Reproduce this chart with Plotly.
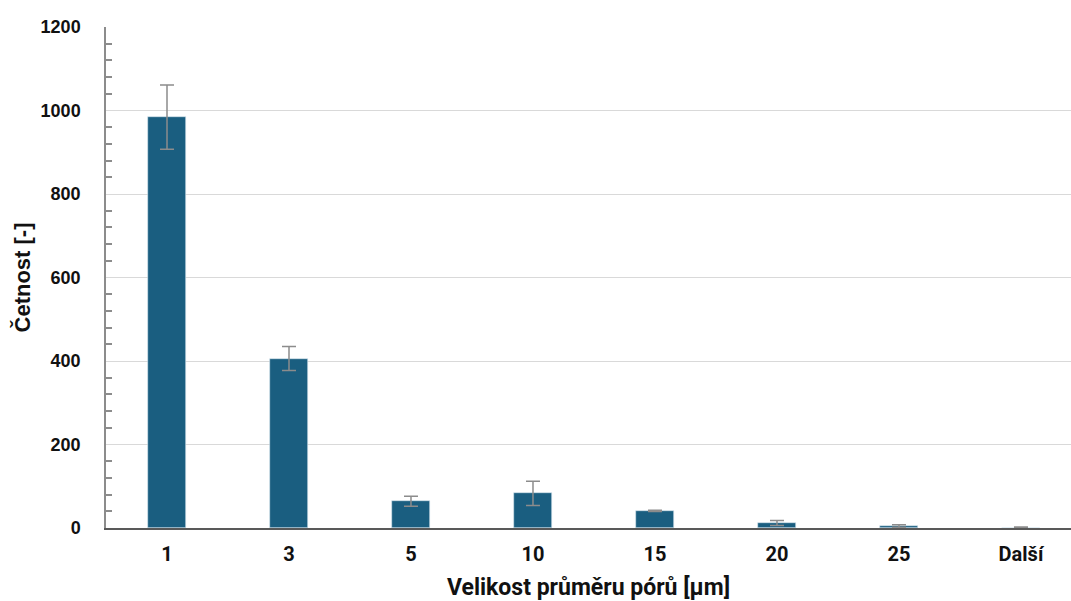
import plotly.graph_objects as go

# Pore diameter histogram (bin labels) with mean counts and error
categories = ["1", "3", "5", "10", "15", "20", "25", "Další"]
counts = [984, 406, 64, 83, 41, 12, 5, 1]
errors = [77, 29, 12, 29, 1.5, 6, 3, 1.5]

BAR_COLOR = "#1a5e80"
AXIS_FONT = "Liberation Sans, Arial, sans-serif"
NARROW_FONT = "Roboto, Liberation Sans Narrow, sans-serif"

fig = go.Figure(
    go.Bar(
        x=list(range(len(categories))),
        y=counts,
        width=0.31,
        marker=dict(color=BAR_COLOR, line=dict(color="#d6e6ef", width=0.6)),
        error_y=dict(
            type="data",
            array=errors,
            visible=True,
            color="#8c8c8c",
            thickness=1.5,
            width=7,
        ),
    )
)

fig.update_layout(
    width=1071,
    height=601,
    margin=dict(l=106, r=0, t=27, b=73),
    paper_bgcolor="white",
    plot_bgcolor="white",
    showlegend=False,
    bargap=0,
)

fig.update_xaxes(
    tickmode="array",
    tickvals=list(range(len(categories))),
    ticktext=categories,
    range=[-0.5, 7.41],
    showgrid=False,
    showline=True,
    linecolor="#595959",
    linewidth=2,
    ticks="",
    ticklabelstandoff=7,
    tickfont=dict(family=NARROW_FONT, size=20, color="#111111", weight="bold"),
    title=dict(
        text="Velikost průměru pórů [µm]",
        font=dict(family=NARROW_FONT, size=23, color="#111111", weight="bold"),
        standoff=16,
    ),
)

fig.update_yaxes(
    range=[0, 1200],
    tickmode="linear",
    tick0=0,
    dtick=200,
    showgrid=True,
    gridcolor="#d9d9d9",
    gridwidth=1,
    showline=True,
    linecolor="#8c8c8c",
    linewidth=1.5,
    zeroline=False,
    ticks="",
    ticklabelstandoff=20,
    tickfont=dict(family=AXIS_FONT, size=18, color="#111111", weight="bold"),
    minor=dict(
        dtick=40,
        tick0=0,
        ticks="inside",
        ticklen=6,
        tickcolor="#8c8c8c",
        tickwidth=1.5,
        showgrid=False,
    ),
    title=dict(
        text="Četnost [-]",
        font=dict(family=AXIS_FONT, size=22, color="#111111", weight="bold"),
        standoff=4,
    ),
)

fig.write_html("out.html")
